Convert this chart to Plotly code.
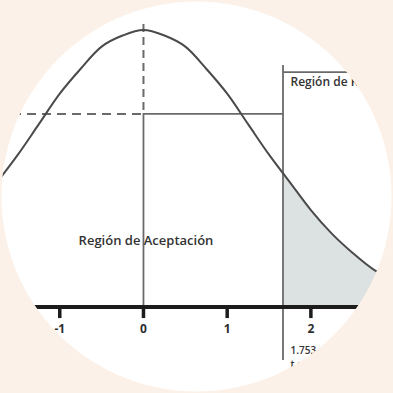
import numpy as np
import plotly.graph_objects as go

# curva (altura relativa, pico = 1)
curva_x = [-1.75, -1.5, -1.25, -1.0, -0.75, -0.5, -0.25, 0.0, 0.25, 0.5, 0.75,
           1.0, 1.25, 1.5, 1.75, 2.0, 2.25, 2.5, 2.75, 3.0]
curva_y = [0.45, 0.55, 0.66, 0.77, 0.86, 0.94, 0.98, 1.0, 0.98, 0.94, 0.86,
           0.77, 0.66, 0.55, 0.45, 0.35, 0.265, 0.195, 0.135, 0.095]

ticks_x = [-1, 0, 1, 2]
ticks_txt = ["-1", "0", "1", "2"]

linea_critica = 1.667      # donde esta dibujada la linea
valor_critico = "1.753"
curva_en_critico = 0.495
nivel_horizontal = 0.697

fondo = "#fcf1e8"
gris = "#6a6a6a"

fig = go.Figure()

# region de rechazo sombreada
sx = [linea_critica] + [x for x in curva_x if x > linea_critica]
sy = [curva_en_critico] + [y for x, y in zip(curva_x, curva_y) if x > linea_critica]
fig.add_trace(go.Scatter(x=sx, y=sy, mode="lines", line=dict(width=0, shape="spline"),
                         fill="tozeroy", fillcolor="#dce2e2"))

# lineas guia
fig.add_trace(go.Scatter(x=[0, 0], y=[1.022, nivel_horizontal], mode="lines",
                         line=dict(color=gris, width=2, dash="8px,5px")))
fig.add_trace(go.Scatter(x=[-1.75, 0], y=[nivel_horizontal, nivel_horizontal], mode="lines",
                         line=dict(color=gris, width=2, dash="9px,6px")))
fig.add_trace(go.Scatter(x=[0, 0, linea_critica], y=[0, nivel_horizontal, nivel_horizontal],
                         mode="lines", line=dict(color=gris, width=1.8)))
fig.add_trace(go.Scatter(x=[linea_critica, linea_critica], y=[-0.191, 0.874], mode="lines",
                         line=dict(color=gris, width=1.8)))
fig.add_trace(go.Scatter(x=[linea_critica, 3.0], y=[0.848, 0.848], mode="lines",
                         line=dict(color=gris, width=1.8)))

# curva
fig.add_trace(go.Scatter(x=curva_x, y=curva_y, mode="lines",
                         line=dict(color="#4a4a4a", width=2, shape="spline")))

# eje y marcas
fig.add_trace(go.Scatter(x=[-1.8, 3.1], y=[0, 0], mode="lines",
                         line=dict(color="#1c1c1c", width=4)))
for t in ticks_x:
    fig.add_trace(go.Scatter(x=[t, t], y=[0, -0.04], mode="lines",
                             line=dict(color="#1c1c1c", width=3.5)))

fuente = dict(family="Open Sans", size=12, color="#2e2e2e", weight=700)
fig.add_trace(go.Scatter(x=ticks_x, y=[-0.083] * 4, mode="text", text=ticks_txt,
                         textfont=fuente, cliponaxis=False))
fig.add_trace(go.Scatter(x=[0.03], y=[0.235], mode="text", text=["Región de Aceptación"],
                         textfont=dict(family="Open Sans", size=13, color="#333333", weight=600)))
fig.add_trace(go.Scatter(x=[linea_critica + 0.09], y=[0.81], mode="text",
                         text=["Región de Rechazo"], textposition="middle right",
                         textfont=dict(family="Open Sans", size=12, color="#333333", weight=600),
                         cliponaxis=False))
fig.add_trace(go.Scatter(x=[linea_critica + 0.09, linea_critica + 0.09], y=[-0.162, -0.212],
                         mode="text", text=[valor_critico, "t crítico"],
                         textposition="middle right",
                         textfont=dict(family="Open Sans", size=10, color="#333333", weight=600),
                         cliponaxis=False))

# mascara circular
ang = np.linspace(0, 2 * np.pi, 121)
cx, cy, r = 0.5, 0.5, 195 / 393
circ = " ".join(("M" if i == 0 else "L") + f" {cx + r*np.cos(a):.4f},{cy + r*np.sin(a):.4f}"
                for i, a in enumerate(ang))
mascara = "M 0,0 L 1,0 L 1,1 L 0,1 Z " + circ + " Z"
fig.add_shape(type="path", path=mascara, xref="paper", yref="paper",
              fillcolor=fondo, line=dict(width=0), layer="above", fillrule="evenodd")

fig.update_layout(width=393, height=393, margin=dict(l=0, r=0, t=0, b=0),
                  showlegend=False, paper_bgcolor=fondo, plot_bgcolor="white")
fig.update_xaxes(range=[-1.714, 2.981], visible=False)
fig.update_yaxes(range=[-0.3105, 1.1083], visible=False)

fig.write_html("out.html", config={"displayModeBar": False, "staticPlot": True},
               post_script="document.body.style.margin='0';"
                           "document.body.style.background='" + fondo + "';")
